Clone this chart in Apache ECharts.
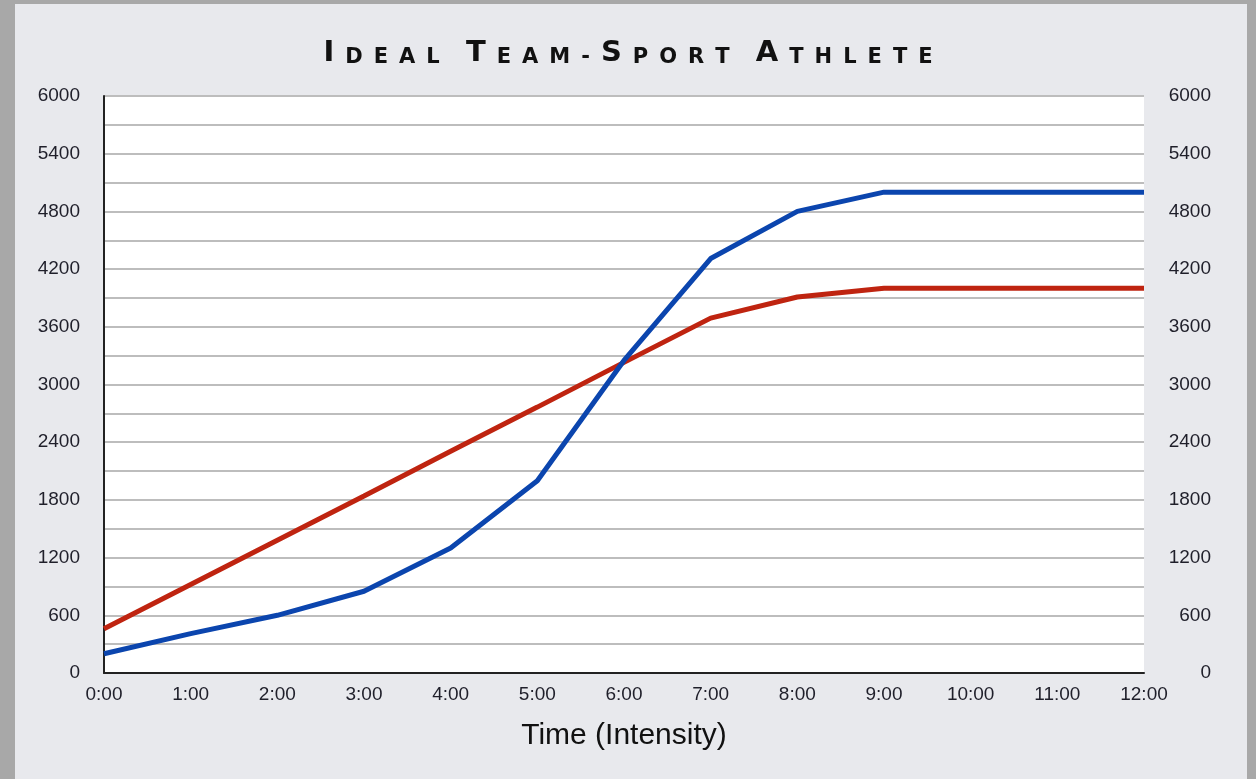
<!DOCTYPE html>
<html>
<head>
<meta charset="utf-8">
<script src="https://cdn.jsdelivr.net/npm/echarts@6/dist/echarts.min.js"></script>
<style>
  html, body { margin: 0; padding: 0; background: #a8a8a8; }
  #chart { width: 1256px; height: 779px; }
</style>
</head>
<body>
<div id="chart"></div>
<script>
const titleText = "Ideal Team-Sport Athlete";
const timeLabels = ["0:00", "1:00", "2:00", "3:00", "4:00", "5:00", "6:00", "7:00", "8:00", "9:00", "10:00", "11:00", "12:00"];
const blueValues = [200, 410, 600, 850, 1300, 2000, 3250, 4310, 4800, 5000, 5000, 5000, 5000];
const redValues = [460, 920, 1380, 1840, 2305, 2765, 3230, 3690, 3910, 4000, 4000, 4000, 4000];

// small caps title: capitals big, lower case letters as smaller capitals
function smallCaps(str) {
  let out = "";
  for (const ch of str) {
    if (ch === " ") out += "{sp| }";
    else if (ch === ch.toUpperCase() && ch !== "-") out += "{c|" + ch + "}";
    else out += "{s|" + ch.toUpperCase() + "}";
  }
  return out;
}

const chart = echarts.init(document.getElementById("chart"));
const labelStyle = {
  color: "#1f1f2a",
  fontFamily: "Liberation Sans",
  fontSize: 19,
  formatter: function (v) { return String(v); }
};

chart.setOption({
  backgroundColor: "#a8a8a8",
  animation: false,
  graphic: [
    {
      type: "rect",
      z: -10,
      shape: { x: 15, y: 4, width: 1232, height: 775 },
      style: { fill: "#e8e9ed" }
    }
  ],
  title: {
    text: smallCaps(titleText),
    left: "center",
    top: 34,
    textStyle: {
      rich: {
        c: { fontFamily: "DejaVu Sans", fontWeight: "bold", fontSize: 29, color: "#111", padding: [0, 5.5], verticalAlign: "bottom" },
        s: { fontFamily: "DejaVu Sans", fontWeight: "bold", fontSize: 21, color: "#111", padding: [0, 5.5], verticalAlign: "bottom" },
        sp: { fontFamily: "DejaVu Sans", fontSize: 21, padding: [0, 4] }
      }
    }
  },
  grid: {
    left: 104, right: 112, top: 96, bottom: 106,
    show: true, backgroundColor: "#ffffff", borderWidth: 0
  },
  xAxis: {
    type: "category",
    data: timeLabels,
    boundaryGap: false,
    name: "Time (Intensity)",
    nameLocation: "middle",
    nameGap: 48,
    nameTextStyle: { color: "#111", fontFamily: "Liberation Sans", fontSize: 30 },
    axisLine: { lineStyle: { color: "#222", width: 2 } },
    axisTick: { show: false },
    axisLabel: Object.assign({ margin: 12, interval: 0 }, labelStyle),
    splitLine: { show: false }
  },
  yAxis: [
    {
      type: "value",
      min: 0,
      max: 6000,
      interval: 600,
      axisLine: { show: true, lineStyle: { color: "#222", width: 2 } },
      axisTick: { show: false },
      axisLabel: Object.assign({ margin: 24 }, labelStyle),
      splitLine: { lineStyle: { color: "#bdbdbd", width: 2 } },
      minorTick: { show: false, splitNumber: 2 },
      minorSplitLine: { show: true, lineStyle: { color: "#bdbdbd", width: 2 } }
    },
    {
      type: "value",
      position: "right",
      min: 0,
      max: 6000,
      interval: 600,
      axisLine: { show: false },
      axisTick: { show: false },
      axisLabel: Object.assign({ margin: 67, align: "right" }, labelStyle),
      splitLine: { show: false }
    }
  ],
  series: [
    {
      type: "line",
      data: redValues,
      showSymbol: false,
      lineStyle: { color: "#bf2410", width: 5 },
      z: 3
    },
    {
      type: "line",
      data: blueValues,
      showSymbol: false,
      lineStyle: { color: "#0b45ae", width: 5 },
      z: 4
    }
  ]
});
</script>
</body>
</html>
